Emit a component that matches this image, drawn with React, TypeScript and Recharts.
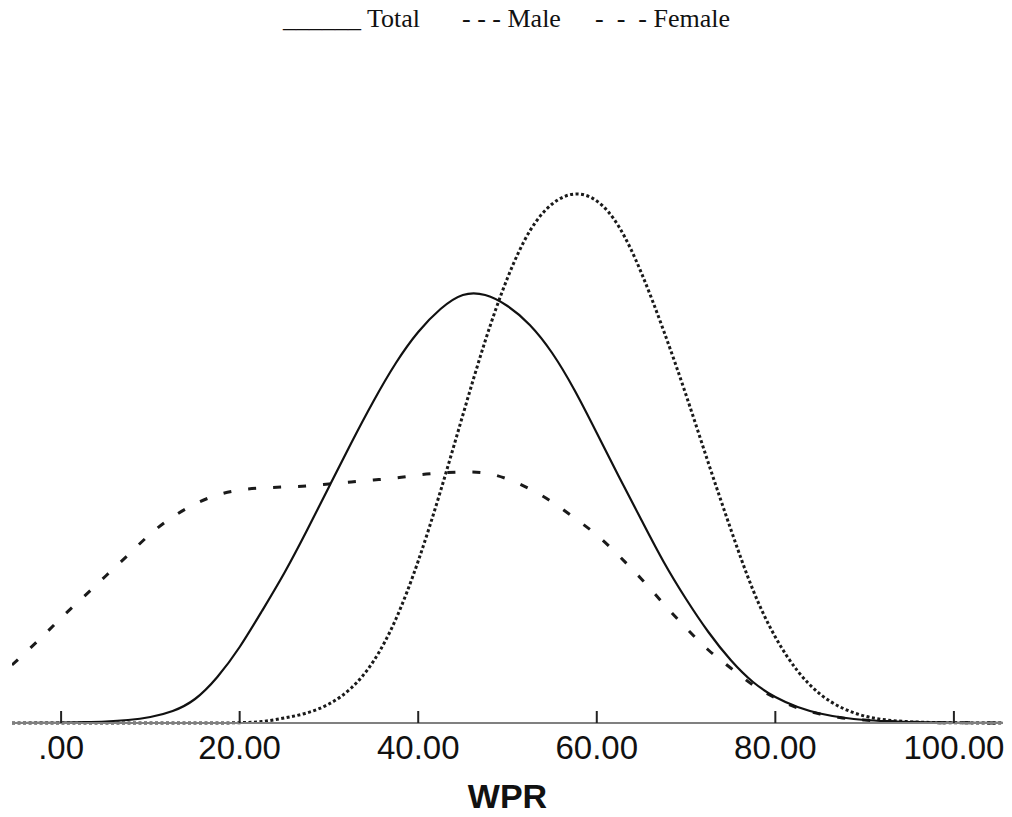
import { LineChart, Line, XAxis, YAxis, Customized, Label } from 'recharts';

// WPR grid (x) and density height for each group
const wpr = [
  -5.5, -2.5, 0, 2.5, 5, 7.5, 10, 12.5, 15, 17.5, 20, 22.5, 25, 27.5, 30, 32.5, 35, 37.5, 40, 42.5,
  45, 47.5, 50, 52.5, 55, 57.5, 60, 62.5, 65, 67.5, 70, 72.5, 75, 77.5, 80, 82.5, 85, 87.5, 90, 92.5,
  95, 97.5, 100, 102.5, 105, 105.5,
];
const total = [
  0, 0.1, 0.3, 0.8, 1.5, 3, 6, 12, 24, 46, 76, 112, 150, 192, 236, 280, 322, 360, 391, 414,
  428, 428, 417, 398, 370, 333, 290, 246, 203, 161, 124, 91, 63, 41, 26, 16, 9.5, 5.5, 3, 1.8,
  1, 0.6, 0.3, 0.2, 0.1, 0.1,
];
const male = [
  58, 83, 105, 126, 147, 168, 189, 206, 219, 228, 233, 235, 236, 237, 239, 241, 243, 245, 248, 250,
  251, 250, 244, 234, 221, 205, 188, 167, 144, 119, 95, 73, 55, 38, 25, 15, 9, 5, 3, 1.5,
  0.8, 0.4, 0.2, 0.1, 0, 0,
];
const female = [
  0, 0, 0, 0, 0, 0, 0, 0, 0, 0, 0.3, 1.5, 5, 10, 19, 35, 62, 104, 162, 232,
  308, 382, 445, 492, 519, 529, 522, 496, 450, 392, 328, 260, 194, 133, 86, 52, 29, 15, 7, 3,
  1.3, 0.5, 0.2, 0.1, 0, 0,
];
const xTicks = [0, 20, 40, 60, 80, 100];

const legendItems = [
  { mark: '______', label: 'Total', x: 283 },
  { mark: '- - -', label: 'Male', x: 462 },
  { mark: '-  -  -', label: 'Female', x: 595 },
];

const data = wpr.map((x, i) => ({ x, total: total[i], male: male[i], female: female[i] }));

const fmtTick = (v: number) => (v === 0 ? '.00' : v.toFixed(2));

function TopLegend() {
  return (
    <g>
      {legendItems.map((it) => (
        <text
          key={it.label}
          x={it.x}
          y={27}
          fontFamily="'Liberation Serif', 'Times New Roman', serif"
          fontSize={26}
          fill="#111"
          style={{ whiteSpace: 'pre' }}
        >
          {it.mark + ' ' + it.label}
        </text>
      ))}
    </g>
  );
}

export default function App() {
  return (
    <div style={{ position: 'absolute', left: 0, top: 0, background: '#fff' }}>
      <LineChart width={1012} height={817} data={data} margin={{ top: 123, right: 9, left: 12, bottom: 0 }}>
        <XAxis
          dataKey="x"
          type="number"
          domain={[-5.5, 105.5]}
          ticks={xTicks}
          tickFormatter={fmtTick}
          allowDataOverflow
          height={94}
          axisLine={{ stroke: '#808080', strokeWidth: 2 }}
          tickLine={{ stroke: '#222', strokeWidth: 2 }}
          tickSize={-12}
          tickMargin={25}
          tick={{ fill: '#111', fontSize: 33, fontFamily: "'Liberation Sans', Arial, sans-serif" }}
        >
          <Label
            value="WPR"
            position="insideBottom"
            offset={9}
            style={{ fill: '#111', fontSize: 34, fontWeight: 'bold', fontFamily: "'Liberation Sans', Arial, sans-serif" }}
          />
        </XAxis>
        <YAxis hide domain={[0, 600]} />
        <Line
          type="natural"
          dataKey="male"
          stroke="#1a1a1a"
          strokeWidth={3}
          strokeDasharray="8 17"
          dot={false}
          isAnimationActive={false}
        />
        <Line
          type="natural"
          dataKey="female"
          stroke="#1a1a1a"
          strokeWidth={3}
          strokeDasharray="3 2.5"
          dot={false}
          isAnimationActive={false}
        />
        <Line
          type="natural"
          dataKey="total"
          stroke="#111"
          strokeWidth={2.2}
          dot={false}
          isAnimationActive={false}
        />
        <Customized component={TopLegend} />
      </LineChart>
    </div>
  );
}
